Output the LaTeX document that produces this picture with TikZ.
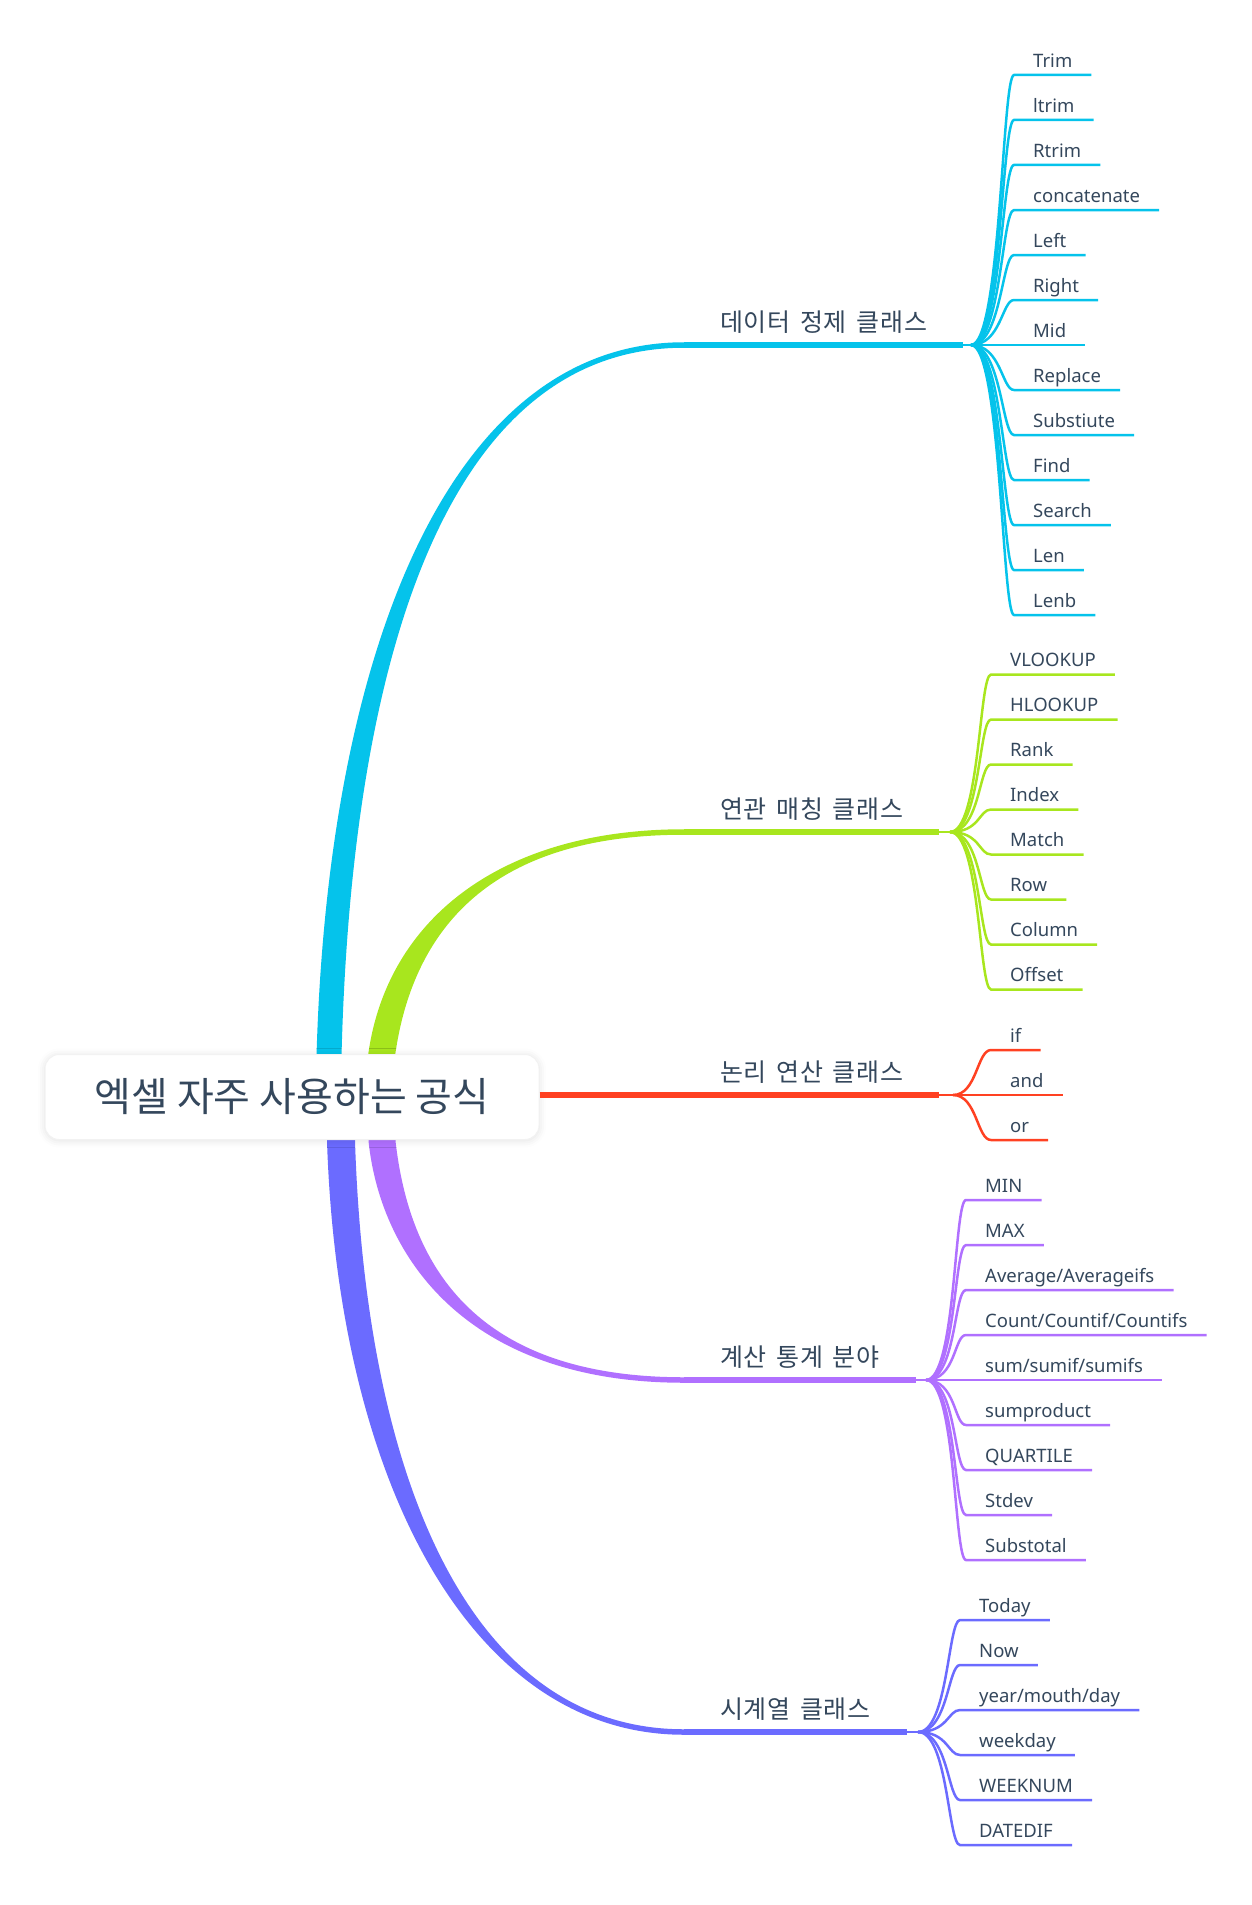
\documentclass[tikz,border=0pt]{standalone}
\usepackage{fontspec}
\setmainfont{Noto Sans}
\newfontfamily\kofont{Noto Sans CJK KR}
\newfontfamily\kolabel[LetterSpace=3, WordSpace=1.5]{Noto Sans CJK KR}
\usetikzlibrary{shadows.blur}

\definecolor{ink}{HTML}{34475C}
\definecolor{cleancol}{HTML}{05C3EB}
\definecolor{matchcol}{HTML}{A8E61E}
\definecolor{logiccol}{HTML}{FF4122}
\definecolor{statcol}{HTML}{B070FF}
\definecolor{timecol}{HTML}{6B6BFF}

\begin{document}
\begin{tikzpicture}[
    x=1pt, y=-1pt,
    root/.style={draw=black!5, line width=1pt, fill=white, rounded corners=14pt,
        minimum width=494pt, minimum height=85pt, text=ink,
        font=\kofont\fontsize{40}{46}\selectfont,
        blur shadow={shadow xshift=0pt, shadow yshift=-1pt, shadow blur radius=7pt, shadow opacity=12}},
    branch/.style={anchor=south west, inner xsep=36pt, inner ysep=8pt,
        text height=19pt, text depth=5pt, text=ink, font=\kolabel\fontsize{25}{29}\selectfont},
    leaf/.style={anchor=south west, inner xsep=19pt, inner ysep=3.5pt,
        text height=14pt, text depth=4pt, text=ink, font=\fontsize{18.5}{22}\selectfont},
    stem/.style={line width=5.5pt},
    twig/.style={line width=2.5pt}
]
    \useasboundingbox (0,0) rectangle (1252,1905);

    % Branch titles
    \node[branch] (clean) at (684,345) {데이터 정제 클래스};
    \node[branch] (match) at (684,832) {연관 매칭 클래스};
    \node[branch] (logic) at (684,1095) {논리 연산 클래스};
    \node[branch] (stat) at (684,1380) {계산 통계 분야};
    \node[branch] (time) at (684,1732) {시계열 클래스};

    % Forks
    \coordinate (cleanfork) at (971,345);
    \coordinate (matchfork) at (950,832);
    \coordinate (logicfork) at (953,1095);
    \coordinate (statfork) at (926,1380);
    \coordinate (timefork) at (918,1732);

    % Tapered trunks
    \fill[cleancol] (316.5,1080) -- (316.5,1056) .. controls (328,650) and (450,342.25) .. ([yshift=2.75pt]clean.south west)
        -- ([yshift=-2.75pt]clean.south west) .. controls (450,347.75) and (352,650) .. (341.5,1056) -- (341.5,1080) -- cycle;
    \fill[matchcol] (368,1080) -- (368,1056) .. controls (386,920) and (500,829.25) .. ([yshift=2.75pt]match.south west)
        -- ([yshift=-2.75pt]match.south west) .. controls (500,834.75) and (414,920) .. (395,1056) -- (395,1080) -- cycle;
    \fill[statcol] (368.5,1120) -- (368.5,1141) .. controls (381,1260) and (470,1382.75) .. ([yshift=-2.75pt]stat.south west)
        -- ([yshift=2.75pt]stat.south west) .. controls (470,1377.25) and (409,1260) .. (395.5,1141) -- (395.5,1120) -- cycle;
    \fill[timecol] (327,1120) -- (327,1141) .. controls (338,1480) and (470,1734.75) .. ([yshift=-2.75pt]time.south west)
        -- ([yshift=2.75pt]time.south west) .. controls (470,1729.25) and (366,1480) .. (355,1141) -- (355,1120) -- cycle;

    % Central topic
    \node[root] (root) at (292,1097) {엑셀 자주 사용하는 공식};

    % Straight parts
    \draw[stem, cleancol] (clean.south west) -- (clean.south east);
    \draw[stem, matchcol] (match.south west) -- (match.south east);
    \draw[stem, logiccol] (root.east |- logic.south west) -- (logic.south east);
    \draw[stem, statcol] (stat.south west) -- (stat.south east);
    \draw[stem, timecol] (time.south west) -- (time.south east);
    \draw[twig, cleancol] (clean.south east) -- (cleanfork);
    \draw[twig, matchcol] (match.south east) -- (matchfork);
    \draw[twig, logiccol] (logic.south east) -- (logicfork);
    \draw[twig, statcol] (stat.south east) -- (statfork);
    \draw[twig, timecol] (time.south east) -- (timefork);

    % Leaves
    \foreach \t [count=\i, evaluate=\i as \y using 30+45*\i] in
        {Trim,ltrim,Rtrim,concatenate,Left,Right,Mid,Replace,Substiute,Find,Search,Len,Lenb} {
        \node[leaf] (clean\i) at (1014,\y) {\t};
        \draw[twig, cleancol] (cleanfork) .. controls +(30,0) and +(-12,0) .. (clean\i.south west) -- (clean\i.south east);
    }
    \foreach \t [count=\i, evaluate=\i as \y using 629.5+45*\i] in
        {VLOOKUP,HLOOKUP,Rank,Index,Match,Row,Column,Offset} {
        \node[leaf] (match\i) at (991,\y) {\t};
        \draw[twig, matchcol] (matchfork) .. controls +(30,0) and +(-12,0) .. (match\i.south west) -- (match\i.south east);
    }
    \foreach \t [count=\i, evaluate=\i as \y using 1005+45*\i] in {if,and,or} {
        \node[leaf] (logic\i) at (991,\y) {\t};
        \draw[twig, logiccol] (logicfork) .. controls +(24,0) and +(-14,0) .. (logic\i.south west) -- (logic\i.south east);
    }
    \foreach \t [count=\i, evaluate=\i as \y using 1155+45*\i] in
        {MIN,MAX,Average/Averageifs,Count/Countif/Countifs,sum/sumif/sumifs,sumproduct,QUARTILE,Stdev,Substotal} {
        \node[leaf] (stat\i) at (966,\y) {\t};
        \draw[twig, statcol] (statfork) .. controls +(30,0) and +(-12,0) .. (stat\i.south west) -- (stat\i.south east);
    }
    \foreach \t [count=\i, evaluate=\i as \y using 1575+45*\i] in
        {Today,Now,year/mouth/day,weekday,WEEKNUM,DATEDIF} {
        \node[leaf] (time\i) at (960,\y) {\t};
        \draw[twig, timecol] (timefork) .. controls +(30,0) and +(-12,0) .. (time\i.south west) -- (time\i.south east);
    }
\end{tikzpicture}
\end{document}
